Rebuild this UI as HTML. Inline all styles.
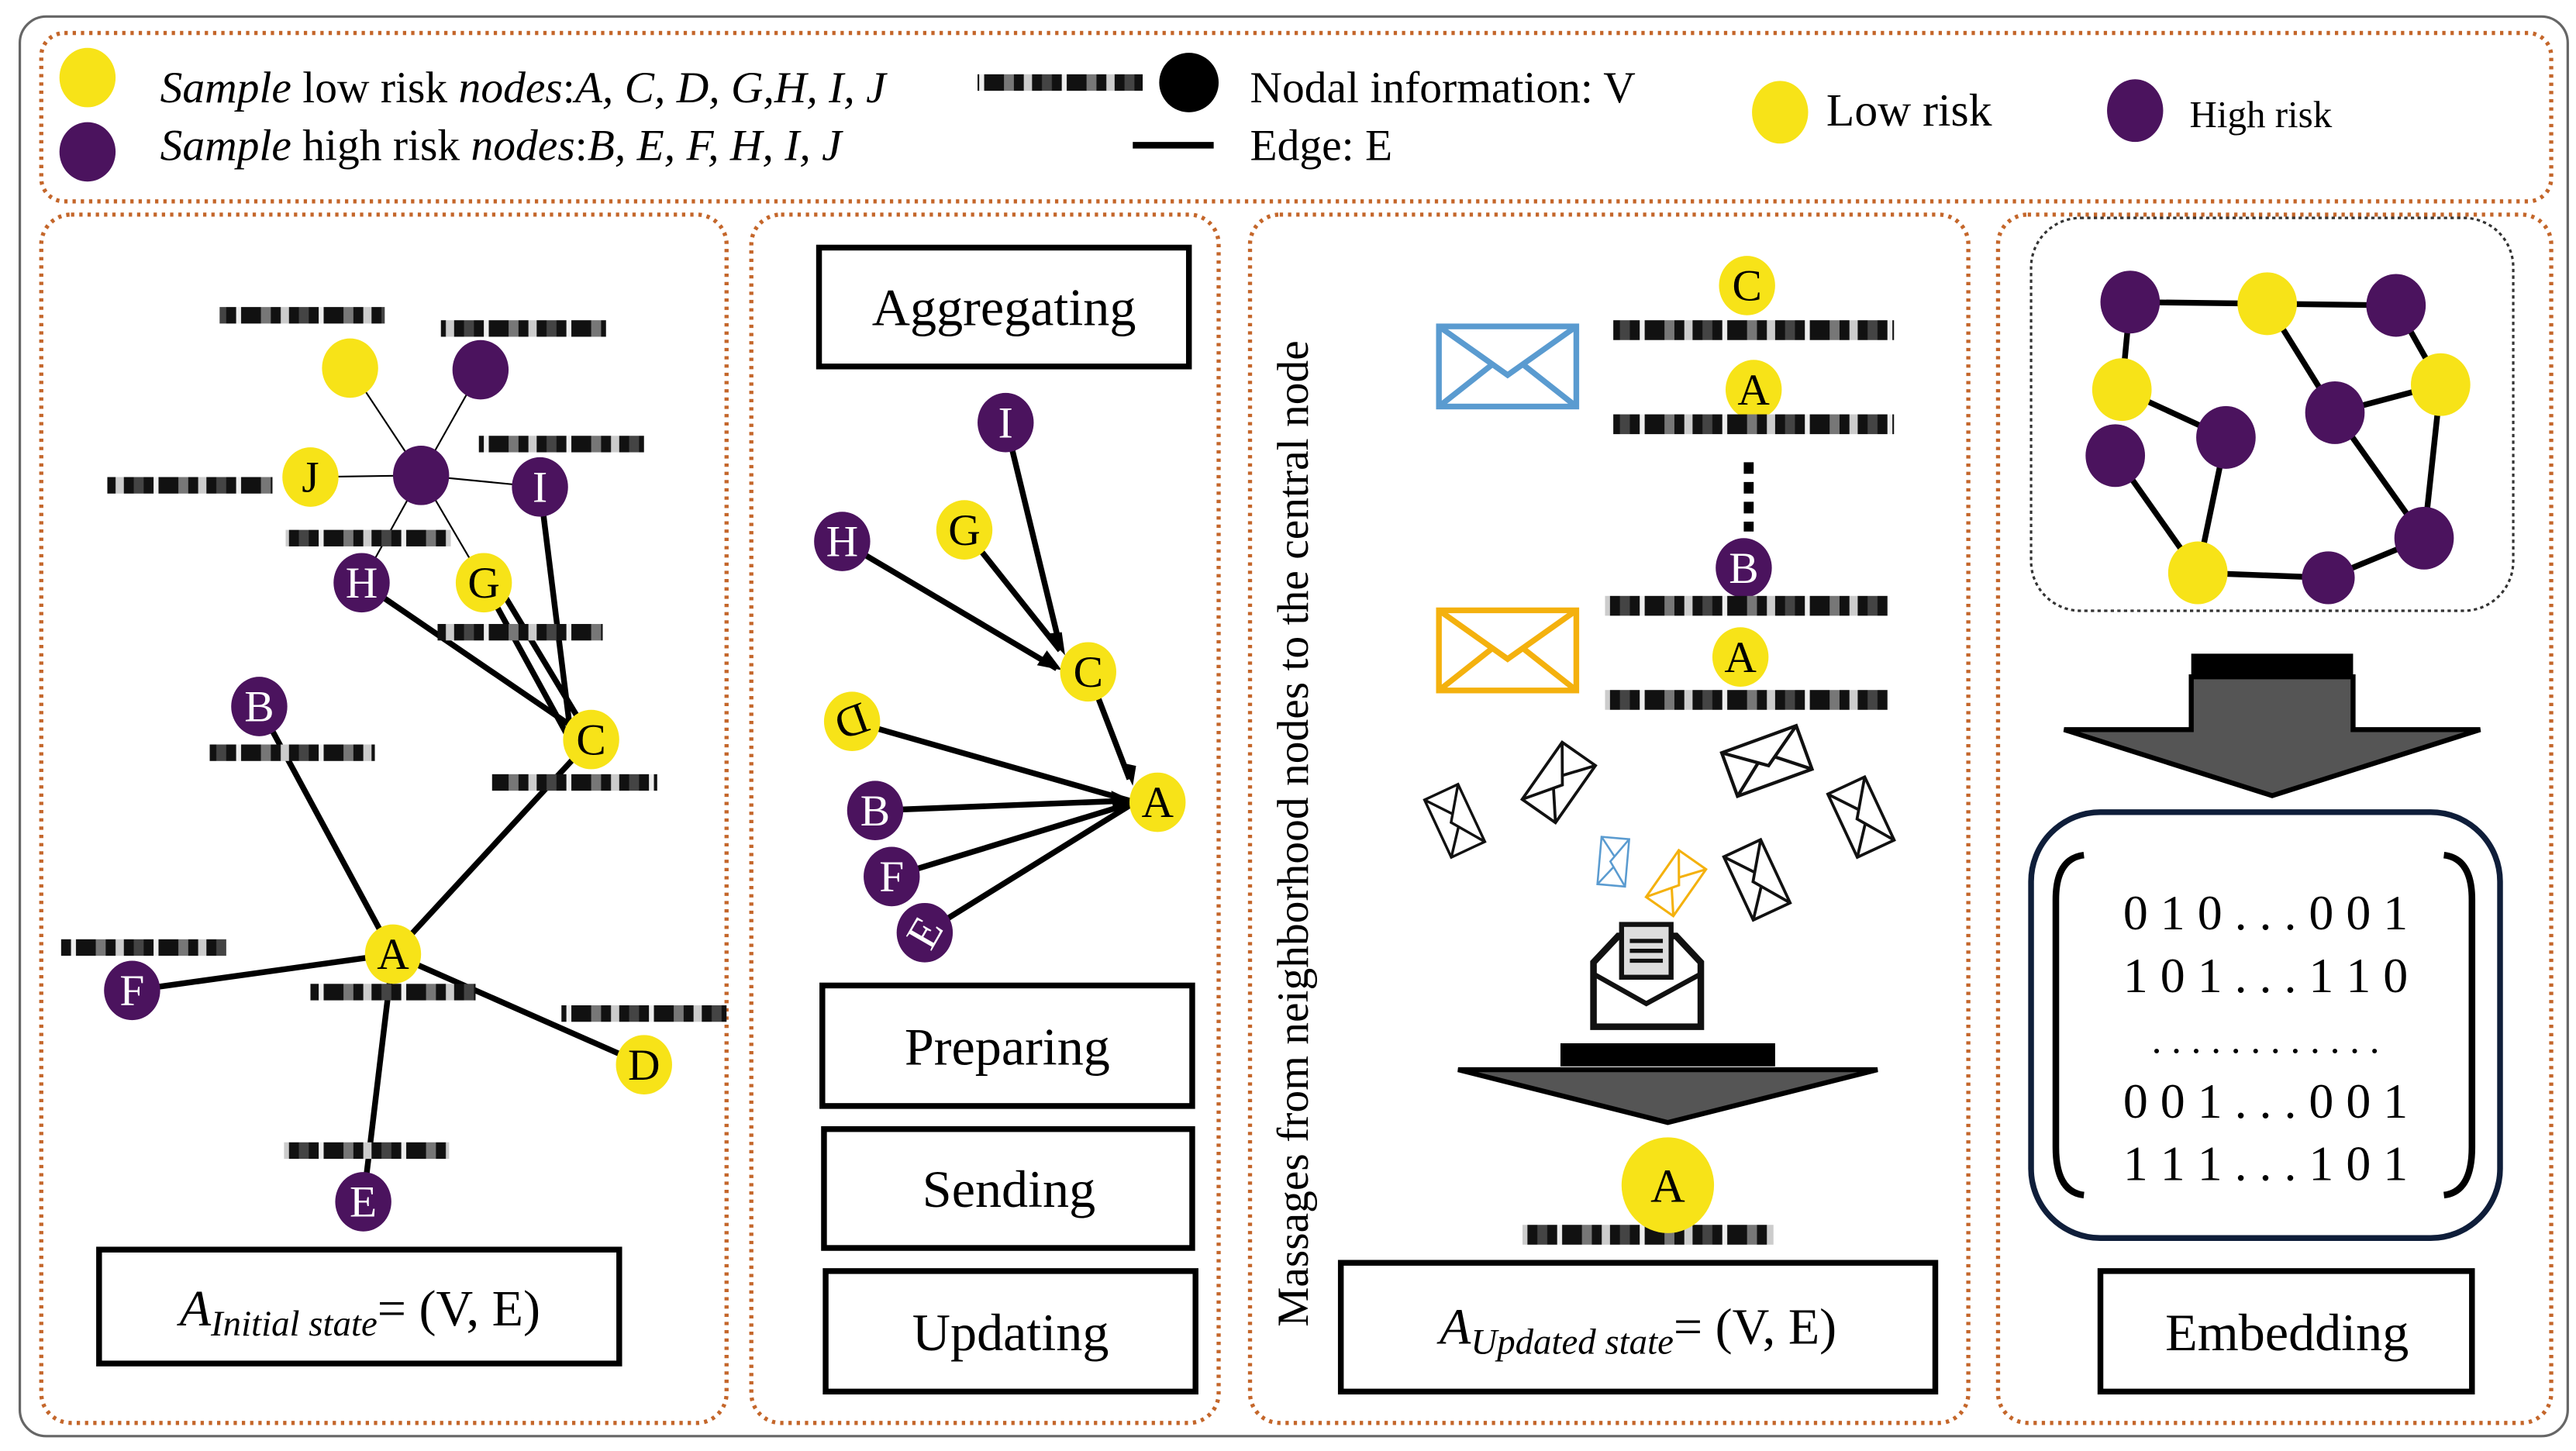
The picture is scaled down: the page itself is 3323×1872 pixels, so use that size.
<!DOCTYPE html>
<html><head><meta charset="utf-8"><style>html,body{margin:0;padding:0;background:#fff}svg{display:block}</style></head>
<body>
<svg width="3323" height="1872" viewBox="0 0 1560 879" preserveAspectRatio="none" xmlns="http://www.w3.org/2000/svg" font-family="'Liberation Serif', serif">
<defs>
<symbol id="env" viewBox="0 0 100 60" overflow="visible">
<rect x="2" y="2" width="96" height="56" fill="none" stroke="currentColor" stroke-width="4"/>
<polyline points="2,2 50,36 98,2" fill="none" stroke="currentColor" stroke-width="4"/>
<line x1="2" y1="58" x2="40" y2="28" stroke="currentColor" stroke-width="4"/>
<line x1="98" y1="58" x2="60" y2="28" stroke="currentColor" stroke-width="4"/>
</symbol>
<pattern id="bar" width="50" height="12" patternUnits="userSpaceOnUse">
<rect width="50" height="12" fill="#111"/><rect x="8" width="6" height="12" fill="#777"/><rect x="20" width="5" height="12" fill="#ccc"/><rect x="31" width="6" height="12" fill="#444"/><rect x="43" width="3" height="12" fill="#eee"/>
</pattern>
</defs>
<rect x="12" y="10" width="1543" height="860" rx="16" fill="none" stroke="#666" stroke-width="1.5"/>
<g fill="none" stroke="#c4662a" stroke-width="2.5" stroke-dasharray="2 3">
<rect x="25" y="20" width="1520" height="102" rx="14"/>
<rect x="25" y="130" width="415" height="732" rx="18"/>
<rect x="455" y="130" width="283" height="732" rx="18"/>
<rect x="757" y="130" width="435" height="732" rx="18"/>
<rect x="1210" y="130" width="335" height="732" rx="18"/>
</g>
<!-- legend -->
<ellipse cx="53" cy="47" rx="17" ry="18" fill="#f7e318"/>
<ellipse cx="53" cy="92" rx="17" ry="18" fill="#4b135e"/>
<text x="97" y="62" font-size="27"><tspan font-style="italic">Sample</tspan> low risk <tspan font-style="italic">nodes</tspan>:<tspan font-style="italic">A, C, D, G,H, I, J</tspan></text>
<text x="97" y="97" font-size="27"><tspan font-style="italic">Sample</tspan> high risk <tspan font-style="italic">nodes</tspan>:<tspan font-style="italic">B, E, F, H, I, J</tspan></text>
<rect x="592" y="45" width="100" height="10" fill="url(#bar)"/>
<circle cx="720" cy="50" r="18" fill="#000"/>
<text x="757" y="62" font-size="27">Nodal information: V</text>
<line x1="686" y1="88" x2="735" y2="88" stroke="#000" stroke-width="4"/>
<text x="757" y="97" font-size="27">Edge: E</text>
<ellipse cx="1078" cy="68" rx="17" ry="19" fill="#f7e318"/>
<text x="1106" y="76" font-size="28">Low risk</text>
<ellipse cx="1293" cy="67" rx="17" ry="19" fill="#4b135e"/>
<text x="1326" y="77" font-size="23">High risk</text>
<!-- panel 1 -->
<g stroke="#000">
<g stroke-width="1"><line x1="255" y1="288" x2="212" y2="223"/><line x1="255" y1="288" x2="291" y2="224"/><line x1="255" y1="288" x2="188" y2="289"/><line x1="255" y1="288" x2="327" y2="295"/><line x1="255" y1="288" x2="219" y2="353"/><line x1="255" y1="288" x2="293" y2="353"/></g>
<g stroke-width="3.5"><line x1="219" y1="353" x2="358" y2="448"/><line x1="293" y1="353" x2="345" y2="448"/><line x1="305" y1="360" x2="358" y2="448"/><line x1="327" y1="295" x2="345" y2="440"/><line x1="157" y1="428" x2="238" y2="578"/><line x1="358" y1="448" x2="238" y2="578"/><line x1="80" y1="600" x2="238" y2="578"/><line x1="238" y1="578" x2="390" y2="645"/><line x1="238" y1="578" x2="220" y2="728"/></g>
</g>
<g fill="url(#bar)">
<rect x="133" y="186" width="100" height="10"/><rect x="267" y="194" width="100" height="10"/><rect x="290" y="264" width="100" height="10"/><rect x="65" y="289" width="100" height="10"/><rect x="173" y="321" width="100" height="10"/><rect x="265" y="378" width="100" height="10"/><rect x="127" y="451" width="100" height="10"/><rect x="298" y="469" width="100" height="10"/><rect x="37" y="569" width="100" height="10"/><rect x="188" y="596" width="100" height="10"/><rect x="340" y="609" width="100" height="10"/><rect x="172" y="692" width="100" height="10"/>
</g>
<g font-size="27" text-anchor="middle">
<ellipse cx="212" cy="223" rx="17" ry="18" fill="#f7e318"/><ellipse cx="291" cy="224" rx="17" ry="18" fill="#4b135e"/><ellipse cx="255" cy="288" rx="17" ry="18" fill="#4b135e"/>
<ellipse cx="188" cy="289" rx="17" ry="18" fill="#f7e318"/><text x="188" y="298">J</text>
<ellipse cx="327" cy="295" rx="17" ry="18" fill="#4b135e"/><text x="327" y="304" fill="#fff">I</text>
<ellipse cx="219" cy="353" rx="17" ry="18" fill="#4b135e"/><text x="219" y="362" fill="#fff">H</text>
<ellipse cx="293" cy="353" rx="17" ry="18" fill="#f7e318"/><text x="293" y="362">G</text>
<ellipse cx="157" cy="428" rx="17" ry="18" fill="#4b135e"/><text x="157" y="437" fill="#fff">B</text>
<ellipse cx="358" cy="448" rx="17" ry="18" fill="#f7e318"/><text x="358" y="457">C</text>
<ellipse cx="238" cy="578" rx="17" ry="18" fill="#f7e318"/><text x="238" y="587">A</text>
<ellipse cx="80" cy="600" rx="17" ry="18" fill="#4b135e"/><text x="80" y="609" fill="#fff">F</text>
<ellipse cx="390" cy="645" rx="17" ry="18" fill="#f7e318"/><text x="390" y="654">D</text>
<ellipse cx="220" cy="728" rx="17" ry="18" fill="#4b135e"/><text x="220" y="737" fill="#fff">E</text>
</g>
<rect x="60" y="757" width="315" height="69" fill="#fff" stroke="#000" stroke-width="3.5"/>
<text x="218" y="803" font-size="31" text-anchor="middle"><tspan font-style="italic">A</tspan><tspan font-style="italic" font-size="22" dy="6">Initial state</tspan><tspan dy="-6">= (V, E)</tspan></text>
<!-- panel 2 -->
<g fill="#fff" stroke="#000" stroke-width="3.5">
<rect x="496" y="150" width="224" height="72"/><rect x="498" y="597" width="224" height="73"/><rect x="499" y="684" width="223" height="72"/><rect x="500" y="770" width="224" height="73"/>
</g>
<g font-size="32" text-anchor="middle">
<text x="608" y="197">Aggregating</text><text x="610" y="645">Preparing</text><text x="611" y="731">Sending</text><text x="612" y="818">Updating</text>
</g>
<g stroke="#000" stroke-width="3.5">
<line x1="609" y1="256" x2="642" y2="392"/><line x1="510" y1="328" x2="640" y2="405"/><line x1="584" y1="321" x2="642" y2="394"/><line x1="659" y1="407" x2="684" y2="472"/>
<line x1="516" y1="437" x2="684" y2="485"/><line x1="530" y1="491" x2="684" y2="485"/><line x1="540" y1="531" x2="684" y2="487"/><line x1="560" y1="565" x2="684" y2="488"/>
</g>
<g fill="#000">
<polygon points="645,397 633,384 643,383"/><polygon points="643,406 628,403 634,394"/><polygon points="686,476 679,462 688,464"/><polygon points="688,486 673,479 674,490"/>
</g>
<g font-size="27" text-anchor="middle">
<ellipse cx="609" cy="256" rx="17" ry="18" fill="#4b135e"/><text x="609" y="265" fill="#fff">I</text>
<ellipse cx="510" cy="328" rx="17" ry="18" fill="#4b135e"/><text x="510" y="337" fill="#fff">H</text>
<ellipse cx="584" cy="321" rx="17" ry="18" fill="#f7e318"/><text x="584" y="330">G</text>
<ellipse cx="659" cy="407" rx="17" ry="18" fill="#f7e318"/><text x="659" y="416">C</text>
<ellipse cx="516" cy="437" rx="17" ry="18" fill="#f7e318"/><text x="516" y="446" transform="rotate(160 516 437)">D</text>
<ellipse cx="530" cy="491" rx="17" ry="18" fill="#4b135e"/><text x="530" y="500" fill="#fff">B</text>
<ellipse cx="540" cy="531" rx="17" ry="18" fill="#4b135e"/><text x="540" y="540" fill="#fff">F</text>
<ellipse cx="560" cy="565" rx="17" ry="18" fill="#4b135e"/><text x="560" y="574" fill="#fff" transform="rotate(-60 560 565)">E</text>
<ellipse cx="701" cy="486" rx="17" ry="18" fill="#f7e318"/><text x="701" y="495">A</text>
</g>
<!-- panel 3 -->
<text transform="translate(792 505) rotate(-90)" font-size="27" text-anchor="middle">Massages from neighborhood nodes to the central node</text>
<use href="#env" x="864" y="196" width="98" height="52" color="#5a9bd0"/>
<use href="#env" x="861" y="368" width="104" height="52" color="#f4b10e"/>
<g font-size="27" text-anchor="middle">
<ellipse cx="1058" cy="173" rx="17" ry="18" fill="#f7e318"/><text x="1058" y="182">C</text>
<ellipse cx="1062" cy="236" rx="17" ry="18" fill="#f7e318"/><text x="1062" y="245">A</text>
<ellipse cx="1056" cy="344" rx="17" ry="18" fill="#4b135e"/><text x="1056" y="353" fill="#fff">B</text>
<ellipse cx="1054" cy="398" rx="17" ry="18" fill="#f7e318"/><text x="1054" y="407">A</text>
</g>
<g fill="url(#bar)"><rect x="977" y="194" width="170" height="12"/><rect x="977" y="251" width="170" height="12"/><rect x="972" y="361" width="172" height="12"/><rect x="972" y="418" width="172" height="12"/><rect x="922" y="742" width="152" height="12"/></g>
<line x1="1059" y1="280" x2="1059" y2="322" stroke="#000" stroke-width="6" stroke-dasharray="7 5"/>
<use href="#env" x="0" y="0" width="40" height="26" color="#111" transform="translate(870 480) rotate(65 20 13) translate(0 10)"/>
<use href="#env" x="0" y="0" width="44" height="28" color="#111" transform="translate(922 460) rotate(-55 22 14)"/>
<use href="#env" x="0" y="0" width="50" height="32" color="#111" transform="translate(1045 445) rotate(-20 25 16)"/>
<use href="#env" x="0" y="0" width="44" height="30" color="#111" transform="translate(1105 480) rotate(65 22 15)"/>
<use href="#env" x="0" y="0" width="44" height="30" color="#111" transform="translate(1042 518) rotate(65 22 15)"/>
<use href="#env" x="0" y="0" width="30" height="20" color="#5a9bd0" transform="translate(962 512) rotate(95 15 10)"/>
<use href="#env" x="0" y="0" width="36" height="22" color="#f4b10e" transform="translate(997 524) rotate(-55 18 11)"/>
<path d="M965 583 L965 622 L1030 622 L1030 583 L1015 567 L980 567 Z" fill="#fff" stroke="#111" stroke-width="4"/>
<rect x="982" y="560" width="30" height="32" fill="#ddd" stroke="#111" stroke-width="3"/>
<g stroke="#111" stroke-width="2.5"><line x1="987" y1="570" x2="1007" y2="570"/><line x1="987" y1="576" x2="1007" y2="576"/><line x1="987" y1="582" x2="1007" y2="582"/></g>
<polyline points="965,590 997,608 1030,590" fill="none" stroke="#111" stroke-width="3"/>
<rect x="945" y="632" width="130" height="14" fill="#000"/>
<polygon points="883,648 1137,648 1010,680" fill="#555" stroke="#000" stroke-width="3"/>
<ellipse cx="1010" cy="718" rx="28" ry="29" fill="#f7e318"/><text x="1010" y="728" font-size="29" text-anchor="middle">A</text>
<rect x="812" y="765" width="360" height="78" fill="#fff" stroke="#000" stroke-width="3.5"/>
<text x="992" y="814" font-size="31" text-anchor="middle"><tspan font-style="italic">A</tspan><tspan font-style="italic" font-size="22" dy="6">Updated state</tspan><tspan dy="-6">= (V, E)</tspan></text>
<!-- panel 4 -->
<rect x="1230" y="132" width="292" height="238" rx="30" fill="none" stroke="#333" stroke-width="1.5" stroke-dasharray="2 2"/>
<g stroke="#000" stroke-width="3.5">
<line x1="1290" y1="183" x2="1373" y2="184"/><line x1="1373" y1="184" x2="1451" y2="185"/><line x1="1290" y1="183" x2="1285" y2="236"/><line x1="1373" y1="184" x2="1414" y2="250"/><line x1="1414" y1="250" x2="1478" y2="233"/><line x1="1451" y1="185" x2="1478" y2="233"/><line x1="1285" y1="236" x2="1348" y2="265"/><line x1="1281" y1="276" x2="1331" y2="347"/><line x1="1348" y1="265" x2="1331" y2="347"/><line x1="1414" y1="250" x2="1468" y2="326"/><line x1="1478" y1="233" x2="1468" y2="326"/><line x1="1331" y1="347" x2="1410" y2="350"/><line x1="1410" y1="350" x2="1468" y2="326"/>
</g>
<g>
<ellipse cx="1290" cy="183" rx="18" ry="19" fill="#4b135e"/><ellipse cx="1373" cy="184" rx="18" ry="19" fill="#f7e318"/><ellipse cx="1451" cy="185" rx="18" ry="19" fill="#4b135e"/><ellipse cx="1285" cy="236" rx="18" ry="19" fill="#f7e318"/><ellipse cx="1414" cy="250" rx="18" ry="19" fill="#4b135e"/><ellipse cx="1478" cy="233" rx="18" ry="19" fill="#f7e318"/><ellipse cx="1281" cy="276" rx="18" ry="19" fill="#4b135e"/><ellipse cx="1348" cy="265" rx="18" ry="19" fill="#4b135e"/><ellipse cx="1468" cy="326" rx="18" ry="19" fill="#4b135e"/><ellipse cx="1331" cy="347" rx="18" ry="19" fill="#f7e318"/><circle cx="1410" cy="350" r="16" fill="#4b135e"/>
</g>
<rect x="1327" y="396" width="98" height="14" fill="#000"/>
<polygon points="1327,410 1425,410 1425,442 1502,442 1376,482 1250,442 1327,442" fill="#555" stroke="#000" stroke-width="3"/>
<rect x="1230" y="492" width="284" height="258" rx="42" fill="none" stroke="#0f1e3a" stroke-width="3.5"/>
<path d="M1262 518 Q1245 520 1245 545 L1245 695 Q1245 722 1262 724" fill="none" stroke="#000" stroke-width="4"/>
<path d="M1480 518 Q1497 520 1497 545 L1497 695 Q1497 722 1480 724" fill="none" stroke="#000" stroke-width="4"/>
<g font-size="30" text-anchor="middle">
<text x="1372" y="563">0 1 0 . . . 0 0 1</text><text x="1372" y="601">1 0 1  . . . 1 1 0</text><text x="1372" y="638" font-size="24">. . . . . . . . . . . .</text><text x="1372" y="677">0 0 1  . . . 0 0 1</text><text x="1372" y="715">1 1 1  . . . 1 0 1</text>
</g>
<rect x="1272" y="770" width="225" height="73" fill="#fff" stroke="#000" stroke-width="3.5"/>
<text x="1385" y="818" font-size="32" text-anchor="middle">Embedding</text>
</svg>
</body></html>
